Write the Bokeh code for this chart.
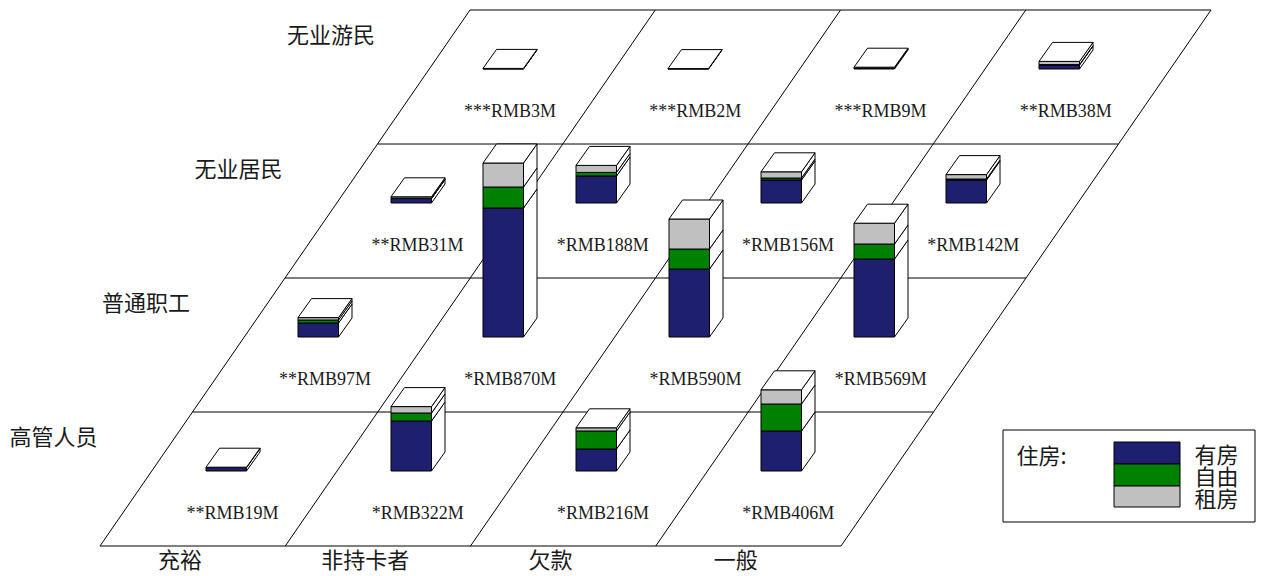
from math import floor

from bokeh.core.properties import value
from bokeh.embed import file_html
from bokeh.models import ColumnDataSource, Range1d
from bokeh.plotting import figure
from bokeh.resources import INLINE

# Card status across the floor, occupation going back into the scene.
card_status = ["充裕", "非持卡者", "欠款", "一般"]
occupation = ["高管人员", "普通职工", "无业居民", "无业游民"]
housing = ["有房", "自由", "租房"]
housing_colors = ["#1f1f70", "#008000", "#c0c0c0"]

# Millions of RMB by occupation (rows) and card status (columns).
totals = [
    [19, 322, 216, 406],
    [97, 870, 590, 569],
    [31, 188, 156, 142],
    [3, 2, 9, 38],
]
owned = [
    [17, 250, 110, 200],
    [70, 645, 340, 390],
    [22, 135, 115, 115],
    [1, 1, 5, 20],
]
free = [
    [0, 40, 90, 135],
    [15, 105, 100, 75],
    [2, 18, 10, 5],
    [0, 0, 0, 2],
]
rented = [
    [2, 32, 16, 71],
    [12, 120, 150, 104],
    [7, 35, 31, 22],
    [2, 1, 4, 16],
]
stars = [
    ["**", "*", "*", "*"],
    ["**", "*", "*", "*"],
    ["**", "*", "*", "*"],
    ["***", "***", "***", "**"],
]

# Floor projection, in page pixels.
FLOOR_X, FLOOR_Y = 99.5, 545.5
COL_W, ROW_H, ROW_SKEW = 185.25, 134.0, 92.5
BAR_W, DEPTH_X, DEPTH_Y = 40.5, 13.5, -19.0
PX_PER_MILLION = 0.2

SERIF = "Liberation Serif"
CJK = "Noto Sans CJK SC"
INK = "#1a1a1a"


def floor_point(col, row):
    return FLOOR_X + COL_W * col + ROW_SKEW * row, FLOOR_Y - ROW_H * row


def snap(v):
    return floor(v) + 0.5


p = figure(
    width=1261, height=576,
    x_range=Range1d(0, 1261), y_range=Range1d(576, 0),
    output_backend="svg", toolbar_location=None,
    min_border=0, outline_line_color=None,
)
p.axis.visible = False
p.grid.visible = False

# Floor grid
for c in range(len(card_status) + 1):
    x0, y0 = floor_point(c, 0)
    x1, y1 = floor_point(c, len(occupation))
    p.line([x0, x1], [y0, y1], line_color="black", line_width=1)
for r in range(len(occupation) + 1):
    x0, y0 = floor_point(0, r)
    x1, y1 = floor_point(len(card_status), r)
    p.line([x0, x1], [y0, y1], line_color="black", line_width=1)

# Stacked blocks, painted from the back row forward
xs, ys, fills = [], [], []
for r in reversed(range(len(occupation))):
    for c in range(len(card_status)):
        fx, fy = floor_point(c, r)
        left = snap(fx + 105.5)
        base = fy - 75.0
        right = left + BAR_W
        level = base
        for seg, color in zip((owned[r][c], free[r][c], rented[r][c]), housing_colors):
            if seg == 0:
                continue
            top = level - seg * PX_PER_MILLION
            # side wall
            xs.append([right, right + DEPTH_X, right + DEPTH_X, right])
            ys.append([level, level + DEPTH_Y, top + DEPTH_Y, top])
            fills.append("white")
            # front wall
            xs.append([left, right, right, left])
            ys.append([level, level, top, top])
            fills.append(color)
            level = top
        # lid
        xs.append([left, right, right + DEPTH_X, left + DEPTH_X])
        ys.append([level, level, level + DEPTH_Y, level + DEPTH_Y])
        fills.append("white")

p.patches(
    "xs", "ys", fill_color="fills", line_color="black", line_width=1,
    source=ColumnDataSource(dict(xs=xs, ys=ys, fills=fills)),
)

# Value captions
cap_x, cap_y, cap_text = [], [], []
for r in range(len(occupation)):
    for c in range(len(card_status)):
        fx, fy = floor_point(c, r)
        cap_x.append(fx + 132.5)
        cap_y.append(fy - 33.5)
        cap_text.append(f"{stars[r][c]}RMB{totals[r][c]}M")
p.text(
    cap_x, cap_y, text=cap_text, text_font=value(SERIF), text_font_size="18px",
    text_align="center", text_baseline="middle", text_color=INK,
)

# Row and column headings
row_x = [9 + ROW_SKEW * r for r in range(len(occupation))]
row_y = [434 - 134 * r for r in range(len(occupation))]
p.text(
    row_x, row_y, text=occupation, text_font=value(CJK), text_font_size="22px",
    text_align="left", text_baseline="middle", text_color=INK,
)
col_x = [FLOOR_X + COL_W * c + 80 for c in range(len(card_status))]
col_y = [FLOOR_Y + 11.5] * len(card_status)
p.text(
    col_x, col_y, text=card_status, text_font=value(CJK), text_font_size="22px",
    text_align="center", text_baseline="middle", text_color=INK,
)

# Legend box
p.quad(left=[1002.5], right=[1254.5], top=[429.5], bottom=[521.5],
       fill_color="white", line_color="black", line_width=1)
p.text([1016], [453], text=["住房:"], text_font=value(CJK), text_font_size="22px",
       text_align="left", text_baseline="middle", text_color=INK)
swatch_top = [441.5, 463.5, 485.5]
swatch_bottom = [463.5, 485.5, 506.5]
p.quad(left=[1113.5] * 3, right=[1179.5] * 3, top=swatch_top, bottom=swatch_bottom,
       fill_color=housing_colors, line_color="black", line_width=1)
p.text([1194] * 3, [452, 474, 496], text=housing, text_font=value(CJK),
       text_font_size="22px", text_align="left", text_baseline="middle", text_color=INK)

open("out.html", "w").write(file_html(p, INLINE))
